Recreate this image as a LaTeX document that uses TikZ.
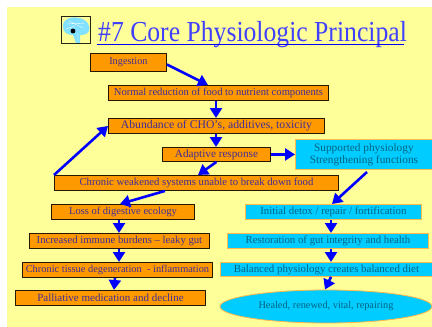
\documentclass[tikz,border=0pt]{standalone}
\usepackage{fontspec}
\setmainfont{Liberation Serif}
\usetikzlibrary{arrows.meta,positioning,shapes.geometric}
\definecolor{paleyellow}{RGB}{255,255,153}
\definecolor{boxorange}{RGB}{255,153,0}
\definecolor{boxcyan}{RGB}{0,204,255}
\definecolor{linkblue}{RGB}{0,0,255}
\definecolor{brainblue}{RGB}{130,225,255}
\definecolor{orangetext}{RGB}{65,45,150}
\definecolor{cyantext}{RGB}{0,100,130}
\begin{document}
\begin{tikzpicture}[x=1pt, y=-1pt]
	\useasboundingbox (0,0) rectangle (432,327);
	\fill[paleyellow] (7,7) rectangle (432,327);
	% brain icon
	\fill[brainblue] (63,27) .. controls (62,19) and (72,16) .. (79,18) .. controls (87,19) and (91,26) .. (89,31) .. controls (87,35) and (82,35) .. (80,35) -- (80,43) -- (76,43) -- (73,35) .. controls (67,35) and (63,32) .. (63,27) -- cycle;
	\draw[white, thin] (67,24) -- (85,23) (69,21) -- (83,28) (66,29) -- (75,26) (78,33) -- (78,42);
	\fill[black] (73,31) circle (2.4);
	\draw[black!85!paleyellow, line width=0.9pt] (61,16) rectangle (90,43);
	% title
	\node[anchor=base west, inner sep=0pt, text=linkblue!75!white, font=\fontsize{29}{29}\selectfont] (title) at (98,41) {\scalebox{.885}[1]{\#7 Core Physiologic Principal}};
	\coordinate (ruleL) at (97,44.5);
	\coordinate (ruleR) at (404,44.5);
	\draw[linkblue, line width=1.8pt] (ruleL) -- (ruleR);
	\begin{scope}[every node/.style={draw=black!85!boxorange, line width=0.9pt, fill=boxorange, text=orangetext, inner sep=0pt, anchor=north west, align=center, font=\fontsize{10.6}{11}\selectfont}]
		\node[minimum width=76pt, minimum height=18pt, font=\fontsize{10.3}{11}\selectfont] (ingest) at (90,53) {Ingestion};
		\node[minimum width=220pt, minimum height=15pt] (reduce) at (108,85) {Normal reduction of food to nutrient components};
		\node[minimum width=216pt, minimum height=15pt, font=\fontsize{11.7}{12}\selectfont] (abund) at (108,118) {Abundance of CHO's, additives, toxicity};
		\node[minimum width=108pt, minimum height=14pt, font=\fontsize{11.2}{12}\selectfont] (adapt) at (162,147) {Adaptive response};
		\node[minimum width=284pt, minimum height=15pt, font=\fontsize{10.7}{11}\selectfont] (weak) at (54,175) {Chronic weakened systems unable to break down food};
		\node[minimum width=143pt, minimum height=15pt, font=\fontsize{10.5}{11}\selectfont] (ecology) at (51,204) {Loss of digestive ecology};
		\node[minimum width=180pt, minimum height=15pt, font=\fontsize{10.7}{11}\selectfont] (immune) at (29,233) {Increased immune burdens -- leaky gut};
		\node[minimum width=190pt, minimum height=15pt, font=\fontsize{10.4}{11}\selectfont] (tissue) at (22,262) {Chronic tissue degeneration \ - inflammation};
		\node[minimum width=190pt, minimum height=15pt, font=\fontsize{11}{11}\selectfont] (palliate) at (15,290) {Palliative medication and decline};
	\end{scope}
	\begin{scope}[every node/.style={draw=boxorange!70!white, line width=0.8pt, fill=boxcyan, text=cyantext, inner sep=0pt, anchor=north west, align=center, font=\fontsize{10.8}{11}\selectfont}]
		\node[minimum width=137pt, minimum height=30pt, font=\fontsize{11.3}{12}\selectfont] (support) at (295,139) {Supported physiology\\Strengthening functions};
		\node[minimum width=176pt, minimum height=15pt] (detox) at (245,204) {Initial detox / repair / fortification};
		\node[minimum width=201pt, minimum height=15pt] (restore) at (227,233) {Restoration of gut integrity and health};
		\node[minimum width=212pt, minimum height=14pt, font=\fontsize{10.9}{11}\selectfont] (balance) at (220,262) {Balanced physiology creates balanced diet};
		\node[ellipse, anchor=center, minimum width=212pt, minimum height=33pt, font=\fontsize{10.3}{11}\selectfont] (healed) at (326,306.5) {Healed, renewed, vital, repairing};
	\end{scope}
	\coordinate (supportout) at (367,172);
	\begin{scope}[every path/.style={draw=linkblue, line width=2.6pt, -{Triangle[length=10pt,width=12pt]}}]
		\path ([yshift=-2pt]ingest.east) -- ([xshift=100pt]reduce.north west);
		\path ([xshift=108pt]reduce.south west) -- ([xshift=108pt]abund.north west);
		\path ([xshift=108pt]abund.south west) -- ([xshift=54pt]adapt.north west);
		\path (adapt.east) -- (support.west |- adapt.east);
		\path (adapt.south) -- ([xshift=144pt]weak.north west);
		\path (weak.north west) -- (abund.west);
		\path (supportout) -- ([xshift=87pt]detox.north west);
		\path ([xshift=111pt]weak.south west) -- ([xshift=69pt]ecology.north west);
		\path ([xshift=68pt]ecology.south west) -- ([xshift=90pt]immune.north west);
		\path ([xshift=86pt]detox.south west) -- ([xshift=104pt]restore.north west);
		\path ([xshift=90pt]immune.south west) -- ([xshift=97pt]tissue.north west);
		\path ([xshift=104pt]restore.south west) -- ([xshift=111pt]balance.north west);
		\path ([xshift=93pt]tissue.south west) -- ([xshift=99pt]palliate.north west);
		\path ([xshift=111pt]balance.south west) -- ([xshift=-1pt]healed.north);
	\end{scope}
\end{tikzpicture}
\end{document}
